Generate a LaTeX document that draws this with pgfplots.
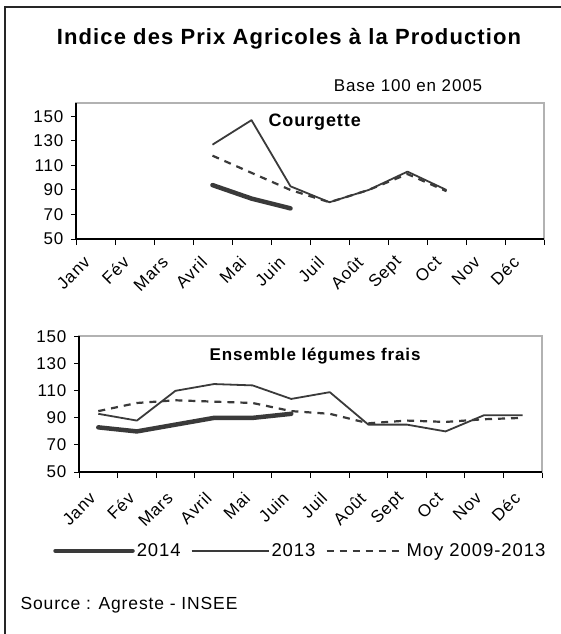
\documentclass[border=0pt]{standalone}
\usepackage{pgfplots}
\pgfplotsset{compat=1.18}
\usepackage{fontspec}
\setmainfont{Liberation Sans}[LetterSpace=5]

\definecolor{ln}{HTML}{3A3A3A}

\pgfplotsset{
  panel/.style={
    scale only axis,
    xmin=0.5, xmax=12.5,
    ymin=50,
    ytick={50,70,...,150},
    xtick={1,...,12},
    xticklabels={Janv,Fév,Mars,Avril,Mai,Juin,Juil,Août,Sept,Oct,Nov,Déc},
    minor xtick={0.5,1.5,...,12.5},
    xtick pos=bottom, ytick pos=left,
    major x tick style={draw=none},
    tick align=outside,
    major tick length=5pt,
    minor tick length=6pt,
    tick style={black, line width=1pt},
    axis line style={draw=black!30, line width=1.2pt},
    /pgf/number format/assume math mode=true,
    yticklabel style={font=\fontsize{17}{17}\selectfont, anchor=east, xshift=-4pt},
    xticklabel style={font=\fontsize{17}{17}\selectfont, xshift=-6pt, yshift=-13pt, rotate=45, anchor=east},
    clip=false,
  },
  s2014/.style={ln, line width=4.5pt, line join=round, line cap=round},
  s2013/.style={ln, line width=1.8pt, line join=round},
  smoy/.style={ln, line width=2.2pt, dash pattern=on 7pt off 6pt},
}

\begin{document}
\begin{tikzpicture}
\useasboundingbox (0pt,-634pt) rectangle (560pt,0pt);
\draw[line width=2pt, black!85] (5pt,-700pt) -- (5pt,-7pt) -- (700pt,-7pt);

\node[font=\fontsize{22}{22}\selectfont\bfseries, anchor=base] at (289pt,-45pt)
  {Indice des Prix Agricoles à la Production};
\node[font=\fontsize{17}{17}\selectfont, anchor=base] at (408pt,-91pt)
  {Base 100 en 2005};

% Courgette
\begin{axis}[panel,
  at={(76pt,-239pt)}, anchor=south west,
  width=468pt, height=136pt,
  ymax=161,
]
\draw[black, line width=1.2pt] (rel axis cs:0,1) -- (rel axis cs:0,0) -- (rel axis cs:1,0);
\addplot[smoy] coordinates {(4,118) (5,104) (6,90) (7,80) (8,90) (9,103) (10,89)};
\addplot[s2013] coordinates {(4,127) (5,147) (6,93) (7,80) (8,90) (9,105) (10,90)};
\addplot[s2014] coordinates {(4,94) (5,83) (6,75)};
\node[font=\fontsize{18}{18}\selectfont\bfseries, anchor=base] at (rel axis cs:0.51,0.83) {Courgette};
\end{axis}

% Ensemble legumes frais
\begin{axis}[panel,
  at={(79pt,-472pt)}, anchor=south west,
  width=463pt, height=136pt,
  ymax=150.5,
  xticklabel style={yshift=-4pt},
  legend columns=3,
  legend style={at={(rel axis cs:-0.056,-0.58)}, anchor=west, draw=none, fill=none,
    inner sep=0pt, font=\fontsize{18.5}{18.5}\selectfont,
    /tikz/every even column/.append style={column sep=8pt},
    nodes={inner sep=2pt}},
  legend image code/.code={\draw[#1] (0pt,0pt) -- (77pt,0pt);},
]
\draw[black, line width=1.2pt] (rel axis cs:0,1) -- (rel axis cs:0,0) -- (rel axis cs:1,0);
\addplot[s2014] coordinates {(1,83) (2,80) (3,85) (4,90) (5,90) (6,93)};
\addlegendentry{2014}
\addplot[s2013] coordinates {(1,93) (2,88) (3,110) (4,115) (5,114) (6,104) (7,109) (8,85) (9,85) (10,80) (11,92) (12,92)};
\addlegendentry{2013}
\addplot[smoy] coordinates {(1,95) (2,101) (3,103) (4,102) (5,101) (6,95) (7,93) (8,86) (9,88) (10,87) (11,89) (12,90)};
\addlegendentry{Moy 2009-2013}
\node[font=\fontsize{17}{17}\selectfont\bfseries, anchor=base] at (rel axis cs:0.51,0.82) {Ensemble légumes frais};
\end{axis}

\node[font=\fontsize{17.5}{17.5}\selectfont, anchor=base west] at (17pt,-609pt)
  {Source : Agreste - INSEE};
\end{tikzpicture}
\end{document}
